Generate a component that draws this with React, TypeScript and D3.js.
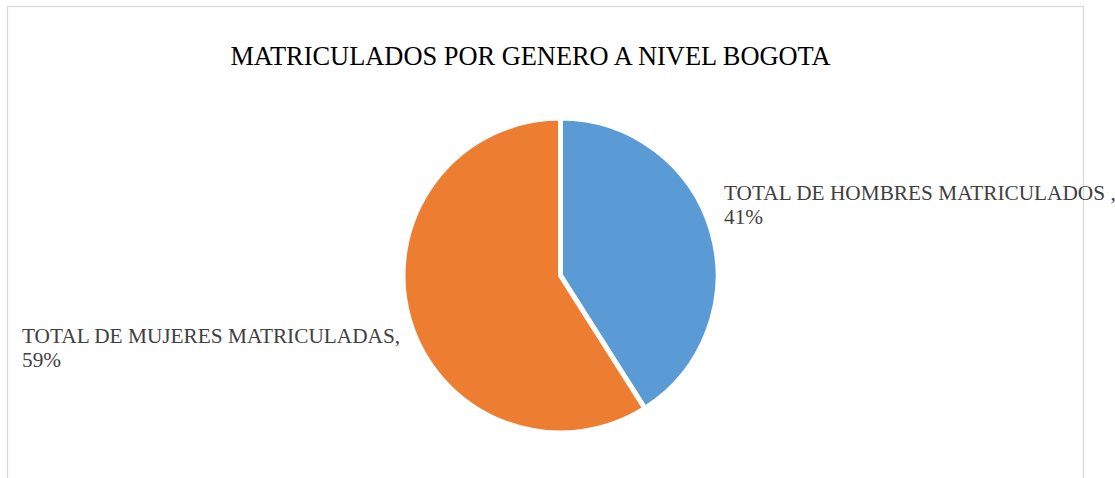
import React from "react";
import * as d3 from "d3";

const title = "MATRICULADOS POR GENERO A NIVEL BOGOTA";
const categories = ["TOTAL DE HOMBRES MATRICULADOS ", "TOTAL DE MUJERES MATRICULADAS"];
const values = [41, 59];
const colors = ["#5B9BD5", "#ED7D31"];

const W = 1115;
const H = 478;

export default function App() {
  const cx = 560.5;
  const cy = 275.5;
  const r = 157.5;
  const pie = d3.pie<number>().sort(null).value((d) => d).startAngle(0).endAngle(2 * Math.PI);
  const arcs = pie(values);
  const arc = d3.arc<d3.PieArcDatum<number>>().innerRadius(0).outerRadius(r);
  const total = d3.sum(values);
  const pct = (v: number) => `${Math.round((v / total) * 100)}%`;

  const labelPos = [
    { x: 724, y: 200 },
    { x: 22, y: 343 },
  ];

  return (
    <svg
      width={W}
      height={H}
      style={{ position: "absolute", left: 0, top: 0, display: "block" }}
      fontFamily="Liberation Serif, Times New Roman, serif"
    >
      <rect x={0} y={0} width={W} height={H} fill="#fff" />
      <rect x={7.5} y={6.5} width={1076} height={500} fill="#fff" stroke="#d9d9d9" strokeWidth={1.3} />
      <text x={530.5} y={65} textAnchor="middle" fontSize={26.4} fill="#000">
        {title}
      </text>
      <g transform={`translate(${cx},${cy})`}>
        {arcs.map((a, i) => (
          <path key={i} d={arc(a) || ""} fill={colors[i]} stroke="#fff" strokeWidth={5} strokeLinejoin="miter" />
        ))}
      </g>
      {arcs.map((a, i) => (
        <text key={i} x={labelPos[i].x} y={labelPos[i].y} fontSize={21.3} fill="#404040">
          <tspan x={labelPos[i].x}>{categories[i] + ","}</tspan>
          <tspan x={labelPos[i].x} dy={24}>{pct(values[i])}</tspan>
        </text>
      ))}
    </svg>
  );
}
